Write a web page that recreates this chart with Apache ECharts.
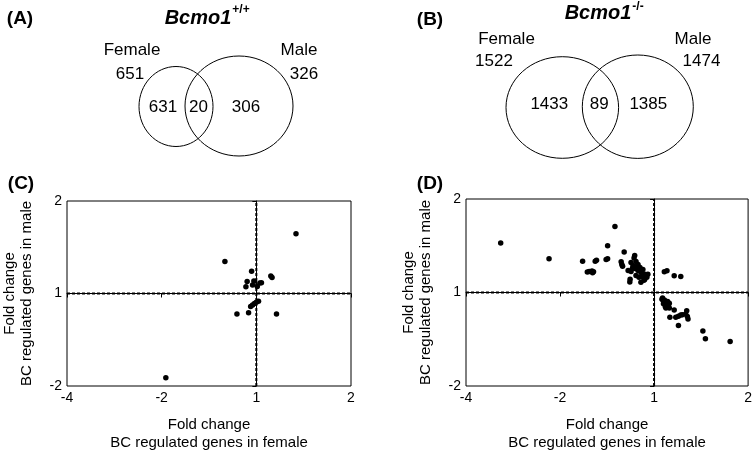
<!DOCTYPE html>
<html>
<head>
<meta charset="utf-8">
<script src="https://cdn.jsdelivr.net/npm/echarts@6/dist/echarts.min.js"></script>
<style>
html,body{margin:0;padding:0;background:#fff;}
#c{width:755px;height:453px;}
</style>
</head>
<body>
<div id="c"></div>
<script>
// ---- Venn counts ----
var vennALabels = ['Female', 'Male'];
var vennATotals = [651, 326];
var vennAParts = [631, 20, 306];
var vennBLabels = ['Female', 'Male'];
var vennBTotals = [1522, 1474];
var vennBParts = [1433, 89, 1385];

// ---- Tick labels (fold change) ----
var xTickLabels = {'-2': '-4', '-1': '-2', '0': '1', '1': '2'};
var yTickLabels = {'-1': '-2', '0': '1', '1': '2'};

// ---- Reference lines (log2 fold change = 0, i.e. fold change 1) ----
var refX = 0;
var refY = 0;

// ---- Scatter (C): log2 fold change, female (x) vs male (y) ----
var cX = [0.419, -0.332, -0.05, 0.153, 0.166, -0.097, -0.11, -0.026, -0.04, 0.01, 0.037, 0.054,
          -0.06, -0.04, -0.02, 0.0, 0.023, -0.205, -0.082, 0.213, -0.956];
var cY = [0.645, 0.346, 0.24, 0.19, 0.172, 0.13, 0.074, 0.134, 0.092, 0.077, 0.113, 0.116,
          -0.141, -0.124, -0.109, -0.095, -0.085, -0.222, -0.208, -0.222, -0.91];

// ---- Scatter (D) ----
var dX = [-1.631, -1.117, -0.760, -0.710, -0.690, -0.660, -0.644, -0.654, -0.626, -0.612,
          -0.510, -0.494, -0.494, -0.416, -0.318, -0.350, -0.343, -0.335,
          -0.206, -0.213, -0.245, -0.224, -0.192, -0.171, -0.203, -0.150, -0.119, -0.171,
          -0.245, -0.276, -0.140, -0.098, -0.129, -0.077, -0.066, -0.161, -0.255, -0.108,
          -0.140, -0.192, -0.258, -0.230, -0.180, -0.100, -0.120,
          0.109, 0.137, 0.214, 0.284,
          0.084, 0.099, 0.112, 0.126, 0.133, 0.144, 0.120, 0.154, 0.162, 0.144, 0.126, 0.162,
          0.214, 0.168, 0.231, 0.259, 0.284, 0.301, 0.336, 0.347, 0.354, 0.361, 0.259,
          0.519, 0.546, 0.809, 0.090, 0.100, 0.110];
var dY = [0.529, 0.360, 0.334, 0.218, 0.225, 0.229, 0.222, 0.212, 0.334, 0.345,
          0.352, 0.360, 0.500, 0.705, 0.434, 0.330, 0.300, 0.280,
          0.395, 0.368, 0.321, 0.289, 0.331, 0.300, 0.257, 0.268, 0.247, 0.236,
          0.225, 0.236, 0.215, 0.194, 0.172, 0.162, 0.194, 0.162, 0.141, 0.130,
          0.109, 0.183, 0.112, 0.260, 0.280, 0.140, 0.200,
          0.222, 0.233, 0.180, 0.172,
          -0.071, -0.089, -0.106, -0.124, -0.142, -0.159, -0.152, -0.131, -0.116, -0.095, -0.166, -0.166,
          -0.187, -0.265, -0.265, -0.254, -0.240, -0.237, -0.230, -0.195, -0.258, -0.283, -0.353,
          -0.413, -0.494, -0.523, -0.060, -0.120, -0.080];

var FONT = '"Liberation Sans", Arial, sans-serif';
function pairs(xs, ys) { return xs.map(function (x, i) { return [x, ys[i]]; }); }

function xAxisDef(gi) {
  return {
    type: 'value', gridIndex: gi, min: -2, max: 1, interval: 1,
    name: 'Fold change\nBC regulated genes in female',
    nameLocation: 'middle', nameGap: 30, nameMoveOverlap: false,
    nameTextStyle: {color: '#000', fontSize: 15, fontFamily: FONT, lineHeight: 18},
    axisLine: {show: true, lineStyle: {color: '#000', width: 1}},
    axisTick: {show: true, length: 4, lineStyle: {color: '#000'}},
    axisLabel: {color: '#000', fontSize: 14, fontFamily: FONT, margin: 5,
      formatter: function (v) { return xTickLabels[String(v)]; }},
    splitLine: {show: false}
  };
}
function yAxisDef(gi) {
  return {
    type: 'value', gridIndex: gi, min: -1, max: 1, interval: 1,
    name: 'Fold change\nBC regulated genes in male',
    nameLocation: 'middle', nameGap: 32, nameRotate: 90, nameMoveOverlap: false,
    nameTextStyle: {color: '#000', fontSize: 15, fontFamily: FONT, lineHeight: 17},
    axisLine: {show: true, lineStyle: {color: '#000', width: 1}},
    axisTick: {show: true, length: 4, lineStyle: {color: '#000'}},
    axisLabel: {color: '#000', fontSize: 14, fontFamily: FONT, margin: 5,
      formatter: function (v) { return yTickLabels[String(v)]; }},
    splitLine: {show: false}
  };
}
function refLineSeries(gi, pts) {
  return {
    type: 'line', xAxisIndex: gi, yAxisIndex: gi, data: pts, showSymbol: false,
    silent: true, z: 2, animation: false,
    lineStyle: {color: '#000', width: 2, type: [3, 2]}
  };
}
function scatter(gi, data) {
  return {
    type: 'scatter', xAxisIndex: gi, yAxisIndex: gi, data: data,
    symbolSize: 5.5, itemStyle: {color: '#000', opacity: 1}, z: 3
  };
}

function txt(x, y, s, size, weight, style) {
  return {type: 'text', x: x, y: y, silent: true, style: {
    text: s, fill: '#000', align: 'center', verticalAlign: 'middle',
    textAlign: 'center', textVerticalAlign: 'middle',
    font: (style || 'normal') + ' ' + (weight || 'normal') + ' ' + size + 'px ' + FONT
  }};
}
function ell(cx, cy, rx, ry) {
  return {type: 'ellipse', silent: true, shape: {cx: cx, cy: cy, rx: rx, ry: ry},
    style: {fill: 'none', stroke: '#000', lineWidth: 1}};
}

var graphics = [
  txt(20, 19, '(A)', 19, 'bold'),
  txt(198, 18, 'Bcmo1', 20, 'bold', 'italic'),
  txt(241, 10, '+/+', 12, 'bold'),
  ell(176, 106.5, 37, 40),
  ell(239, 106, 54, 50),
  txt(132, 50, vennALabels[0], 17),
  txt(130, 74, String(vennATotals[0]), 17),
  txt(299, 50, vennALabels[1], 17),
  txt(304, 74, String(vennATotals[1]), 17),
  txt(163, 107, String(vennAParts[0]), 17),
  txt(198.5, 107, String(vennAParts[1]), 17),
  txt(246, 107, String(vennAParts[2]), 17),

  txt(430, 20, '(B)', 19, 'bold'),
  txt(598, 13, 'Bcmo1', 20, 'bold', 'italic'),
  txt(638, 7, '-/-', 12, 'bold'),
  ell(562.3, 107.5, 56.3, 50.8),
  ell(637.8, 106.7, 55.5, 51.7),
  txt(506.5, 39, vennBLabels[0], 17),
  txt(494, 61, String(vennBTotals[0]), 17),
  txt(693, 39, vennBLabels[1], 17),
  txt(701.5, 61, String(vennBTotals[1]), 17),
  txt(549.3, 104.3, String(vennBParts[0]), 17),
  txt(599.3, 104.3, String(vennBParts[1]), 17),
  txt(648.3, 104.3, String(vennBParts[2]), 17),

  txt(21, 184, '(C)', 19, 'bold'),
  txt(430, 184, '(D)', 19, 'bold')
];

var chart = echarts.init(document.getElementById('c'), null, {renderer: 'canvas'});
chart.setOption({
  animation: false,
  backgroundColor: '#fff',
  grid: [
    {left: 66, top: 201, width: 285, height: 189, show: true, borderColor: '#000', borderWidth: 1, backgroundColor: 'transparent'},
    {left: 466, top: 199, width: 286, height: 190, show: true, borderColor: '#000', borderWidth: 1, backgroundColor: 'transparent'}
  ],
  xAxis: [xAxisDef(0), xAxisDef(1)],
  yAxis: [yAxisDef(0), yAxisDef(1)],
  series: [
    refLineSeries(0, [[refX, -1], [refX, 1]]),
    refLineSeries(0, [[-2, refY], [1, refY]]),
    refLineSeries(1, [[refX, -1], [refX, 1]]),
    refLineSeries(1, [[-2, refY], [1, refY]]),
    scatter(0, pairs(cX, cY)),
    scatter(1, pairs(dX, dY))
  ],
  graphic: graphics
});
</script>
</body>
</html>
